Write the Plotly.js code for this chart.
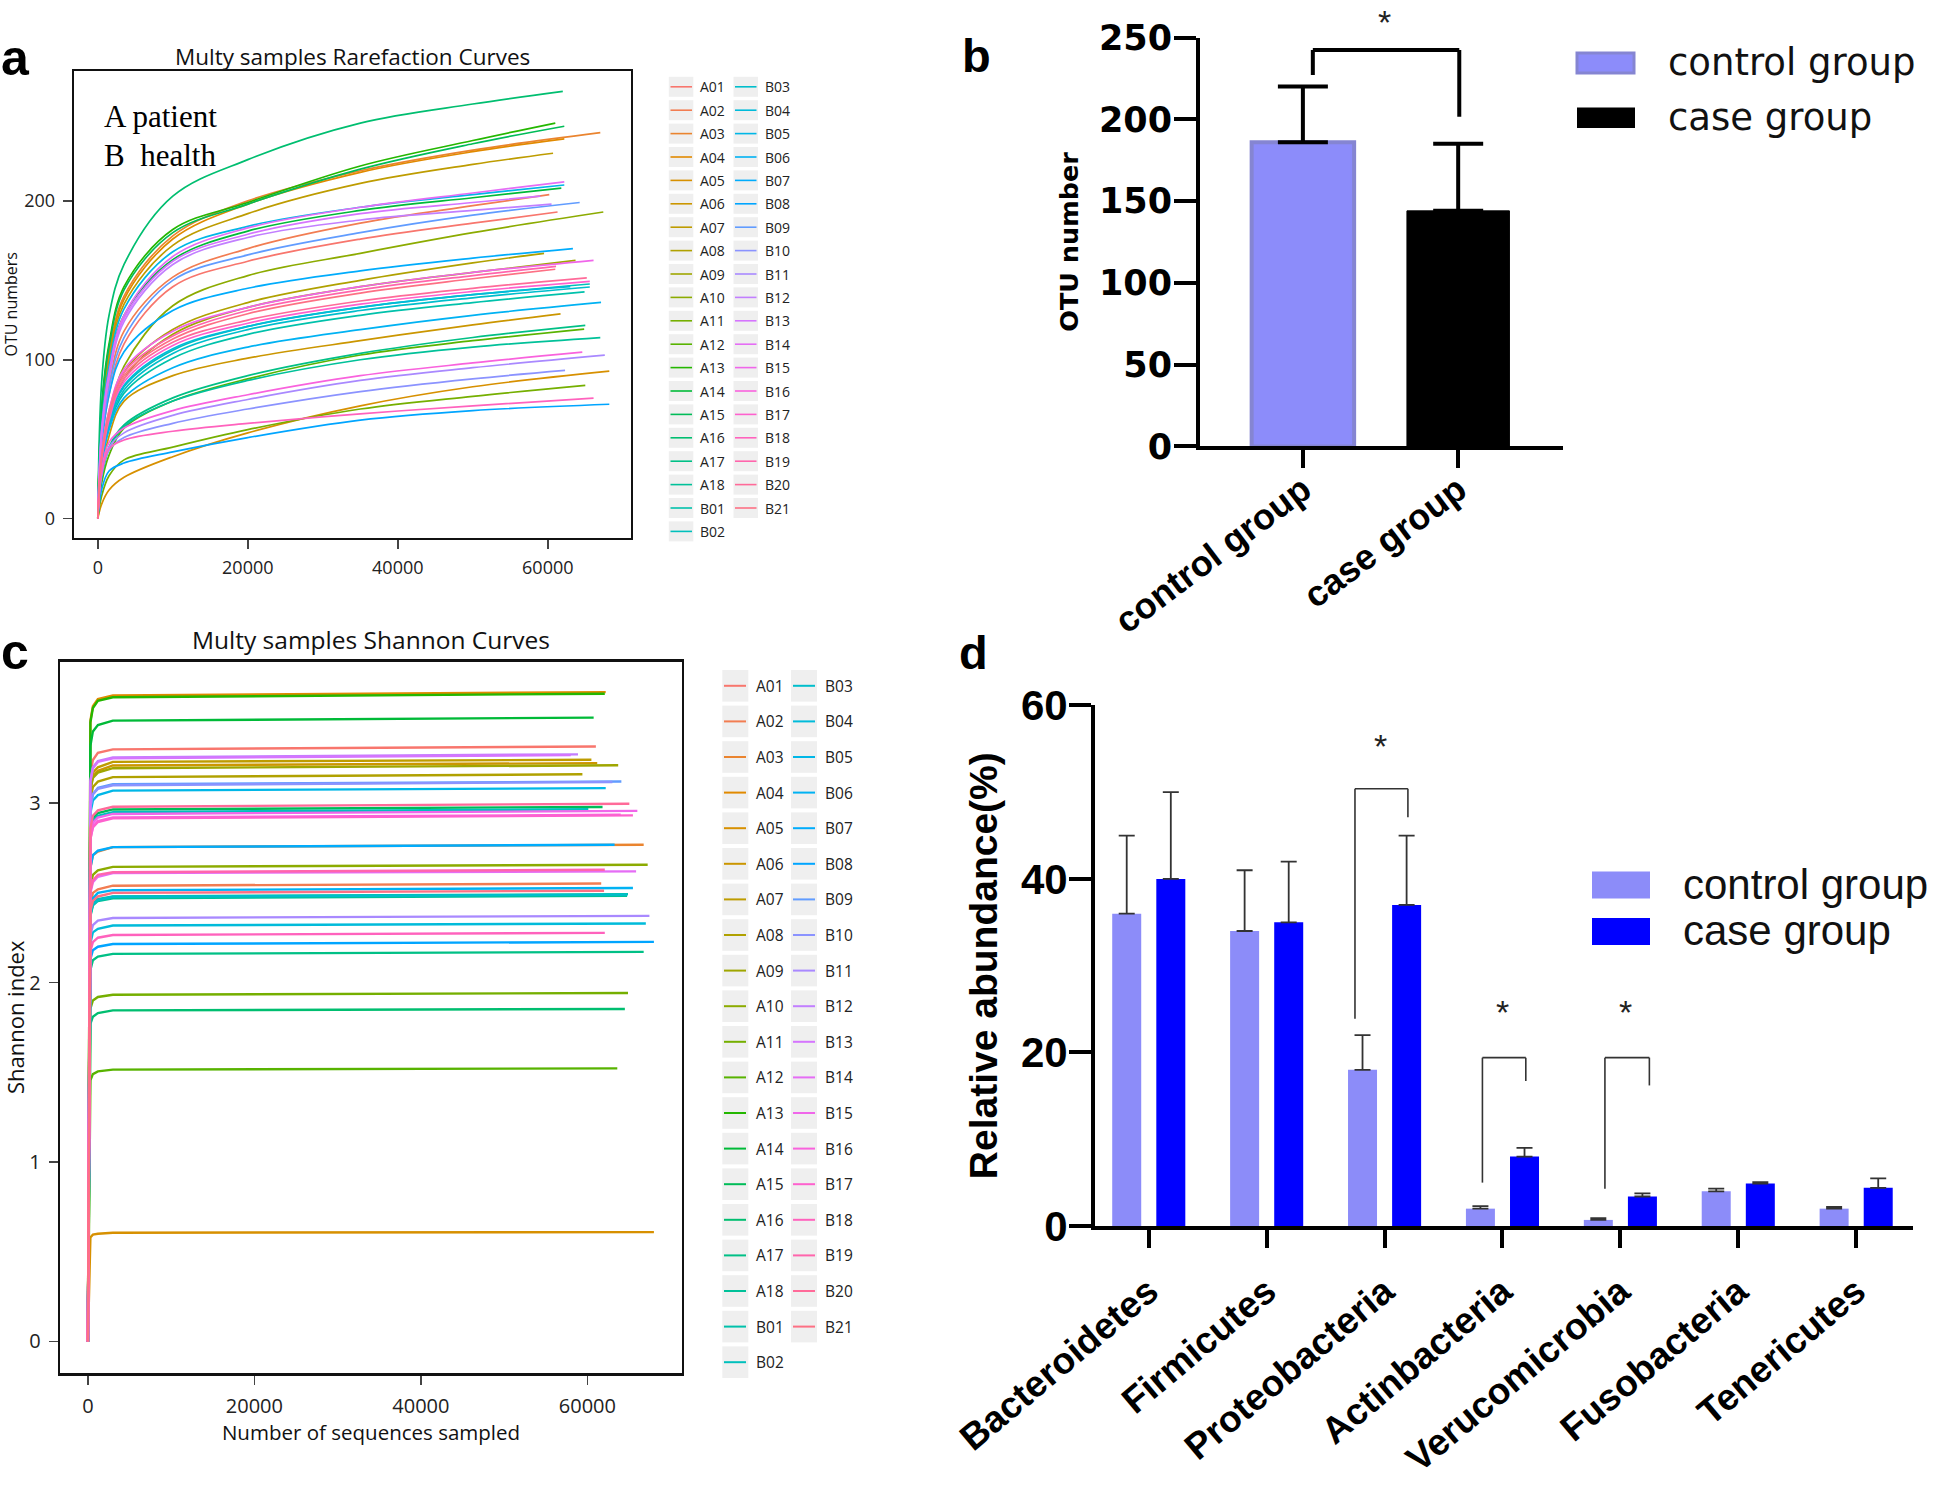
<!DOCTYPE html>
<html><head><meta charset="utf-8">
<script src="https://cdn.plot.ly/plotly-3.0.1.min.js"></script>
<style>html,body{margin:0;padding:0;background:#fff;}#chart{width:1946px;height:1489px;}</style>
</head><body><div id="chart"></div>
<script>
// ---------------- DATA ----------------
const samples = ['A01','A02','A03','A04','A05','A06','A07','A08','A09','A10','A11','A12','A13','A14','A15','A16','A17','A18',
  'B01','B02','B03','B04','B05','B06','B07','B08','B09','B10','B11','B12','B13','B14','B15','B16','B17','B18','B19','B20','B21'];

// Panel a: rarefaction (OTU numbers) read at these sequence counts, then at each sample's depth
const rarefSteps = [0, 500, 1500, 3500, 10000, 20000, 35000, 50000];
const rarefDepthA = [61300,60200,67000,62200,68200,61700,60700,59500,63700,67400,65000,64850,61000,61800,62200,62000,65000,67000];
const rarefDepthB = [64900,65600,65600,63000,62200,67100,63350,68200,64250,62300,67600,60500,59000,62200,66100,64600,65600,66100,61100,65200,61000];
const rarefA = [
  [0,46,78,110,146,162,176,186,193],
  [0,50,84,118,152,170,186,197,204],
  [0,65,104,140,178,200,219,232,243],
  [0,64,102,138,176,198,218,231,239],
  [0,9,18,26,39,54,71,83,92.8],
  [0,28,52,74,90,101,112,122,128.9],
  [0,62,100,135,172,192,211,223,230],
  [0,36,64,92,119,136,150,161,167],
  [0,34,60,88,116,133,146,155,162.6],
  [0,38,66,96,134,153,167,180,193],
  [0,14,27,37,45,56,69,77,83.9],
  [0,22,40,57,74,88,103,112,119.3],
  [0,70,110,146,182,199,222,238,249],
  [0,56,93,128,163,181,194,202,208],
  [0,68,108,144,180,198,220,236,247],
  [0,85,128,160,203,226,249,261,269],
  [0,26,45,59,76,90,104,114,121.7],
  [0,25,44,58,74,87,100,108,114]
];
const rarefB = [
  [0,33,57,79,101,116,128,136,142.7],
  [0,35,60,83,106,121,133,141,147.7],
  [0,34,58,81,104,119,131,139,145.8],
  [0,36,61,84,107,121,133,141,146],
  [0,58,96,132,168,184,196,204,210],
  [0,34,56,76,95,108,119,128,136.1],
  [0,45,78,105,131,145,156,164,170],
  [0,18,30,35,42,51,62,68,72],
  [0,48,82,114,150,166,180,191,199],
  [0,27,43,51,60,69,80,88,93.3],
  [0,28,45,54,65,75,87,95,102.9],
  [0,52,88,124,160,177,188,194,198],
  [0,54,90,126,162,179,192,199,203],
  [0,55,92,128,165,183,196,205,212],
  [0,40,68,94,118,133,146,155,162.6],
  [0,30,48,57,68,78,90,98,104.8],
  [0,36,62,86,109,123,135,143,149.4],
  [0,28,44,49.5,55,60,66,71,75.9],
  [0,40,68,92,115,131,144,153,158.8],
  [0,38,64,88,111,125,137,145,151.6],
  [0,38,66,90,113,129,142,151,157]
];

// Panel c: Shannon index read at these sequence counts, then at each sample's depth
const shannonSteps = [0, 300, 600, 1200, 3000];
const shannonDepthA = [61020,61660,66760,62200,67990,61180,60480,59400,63700,67240,64880,63590,62090,60750,61820,64500,66760,64770];
const shannonDepthB = [64880,60110,64800,67020,62200,65470,63270,67990,64080,63000,67450,58870,58000,65850,66000,64000,65470,62090,62090,65040,62000];
const shannonA = [
  [0,3.17,3.24,3.28,3.30,3.316],
  [0,2.44,2.50,2.52,2.54,2.552],
  [0,2.64,2.71,2.73,2.755,2.768],
  [0,3.46,3.54,3.58,3.60,3.619],
  [0,0.58,0.595,0.60,0.606,0.609],
  [0,3.08,3.15,3.18,3.21,3.223],
  [0,3.10,3.17,3.20,3.23,3.242],
  [0,3.02,3.09,3.12,3.145,3.161],
  [0,3.07,3.14,3.17,3.195,3.211],
  [0,2.54,2.60,2.625,2.645,2.657],
  [0,1.855,1.90,1.92,1.932,1.942],
  [0,1.455,1.49,1.505,1.515,1.522],
  [0,3.45,3.53,3.57,3.59,3.610],
  [0,3.32,3.40,3.435,3.46,3.477],
  [0,2.85,2.915,2.945,2.965,2.979],
  [0,1.77,1.81,1.83,1.845,1.853],
  [0,2.07,2.125,2.145,2.16,2.171],
  [0,2.37,2.43,2.455,2.47,2.484]
];
const shannonB = [
  [0,2.38,2.44,2.465,2.48,2.493],
  [0,2.83,2.90,2.93,2.95,2.966],
  [0,2.38,2.435,2.46,2.478,2.490],
  [0,2.22,2.28,2.30,2.318,2.329],
  [0,2.945,3.015,3.045,3.07,3.084],
  [0,2.41,2.47,2.50,2.515,2.527],
  [0,2.64,2.71,2.735,2.755,2.768],
  [0,2.13,2.18,2.20,2.215,2.227],
  [0,2.98,3.05,3.085,3.105,3.121],
  [0,2.98,3.05,3.08,3.10,3.118],
  [0,2.265,2.32,2.345,2.36,2.372],
  [0,3.125,3.20,3.235,3.255,3.272],
  [0,3.12,3.195,3.23,3.25,3.268],
  [0,2.50,2.56,2.59,2.61,2.620],
  [0,2.825,2.89,2.92,2.94,2.957],
  [0,2.80,2.87,2.90,2.92,2.935],
  [0,2.80,2.865,2.895,2.915,2.932],
  [0,2.175,2.225,2.25,2.265,2.277],
  [0,2.51,2.57,2.60,2.615,2.629],
  [0,2.86,2.93,2.96,2.98,2.997],
  [0,2.40,2.455,2.48,2.50,2.512]
];

// Panel b: OTU number
const groups = ['control group', 'case group'];
const otuMean = [186, 144];
const otuErr = [34, 41];

// Panel d: relative abundance (%)
const phyla = ['Bacteroidetes','Firmicutes','Proteobacteria','Actinbacteria','Verucomicrobia','Fusobacteria','Tenericutes'];
const controlAbund = [36, 34, 18, 2, 0.7, 4, 2];
const controlSD = [9, 7, 4, 0.3, 0.2, 0.3, 0.2];
const caseAbund = [40, 35, 37, 8, 3.4, 4.9, 4.4];
const caseSD = [10, 7, 8, 1, 0.35, 0.15, 1.1];

// ---------------- STYLE HELPERS ----------------
const W = 1946, H = 1489;
const px = x => x / W, py = y => 1 - y / H;

function hcl(h, c, l) {
  const hr = h * Math.PI / 180;
  const U = c * Math.cos(hr), V = c * Math.sin(hr);
  const Y = Math.pow((l + 16) / 116, 3);
  const un = 0.19783982, vn = 0.46833630;
  const u = U / (13 * l) + un, v = V / (13 * l) + vn;
  const X = 9 * Y * u / (4 * v);
  const Z = -X / 3 - 5 * Y + 3 * Y / v;
  const lin = [3.240479*X - 1.537150*Y - 0.498535*Z, -0.969256*X + 1.875992*Y + 0.041556*Z, 0.055648*X - 0.204043*Y + 1.057311*Z];
  return '#' + lin.map(q => {
    q = q <= 0.0031308 ? 12.92 * q : 1.055 * Math.pow(q, 1 / 2.4) - 0.055;
    q = Math.max(0, Math.min(1, q));
    return Math.round(q * 255).toString(16).padStart(2, '0');
  }).join('');
}
const colors = samples.map((s, i) => hcl(15 + i * 360 / samples.length, 100, 65));

const rarefAll = rarefA.concat(rarefB);
const rarefDepth = rarefDepthA.concat(rarefDepthB);
const shannonAll = shannonA.concat(shannonB);
const shannonDepth = shannonDepthA.concat(shannonDepthB);

const traces = [];
samples.forEach((s, i) => {
  traces.push({
    type: 'scatter', mode: 'lines', name: s, xaxis: 'x', yaxis: 'y',
    x: rarefSteps.concat([rarefDepth[i]]), y: rarefAll[i],
    line: {color: colors[i], width: 1.7, shape: 'spline', smoothing: 1},
    showlegend: false, hoverinfo: 'skip'
  });
});
samples.forEach((s, i) => {
  traces.push({
    type: 'scatter', mode: 'lines', name: s, xaxis: 'x3', yaxis: 'y3',
    x: shannonSteps.concat([shannonDepth[i]]), y: shannonAll[i],
    line: {color: colors[i], width: 2.4},
    showlegend: false, hoverinfo: 'skip'
  });
});

// Panel b bars
traces.push({
  type: 'bar', xaxis: 'x2', yaxis: 'y2', x: [groups[0]], y: [otuMean[0]], width: 0.66, offset: -0.33,
  marker: {color: '#8C8CFA', line: {color: '#8585D2', width: 4}},
  error_y: {type: 'data', symmetric: false, array: [otuErr[0]], arrayminus: [0], color: '#000', thickness: 4, width: 25},
  showlegend: false, hoverinfo: 'skip'
});
traces.push({
  type: 'bar', xaxis: 'x2', yaxis: 'y2', x: [groups[1]], y: [otuMean[1]], width: 0.66, offset: -0.33,
  marker: {color: '#000000', line: {color: '#000', width: 1}},
  error_y: {type: 'data', symmetric: false, array: [otuErr[1]], arrayminus: [0], color: '#000', thickness: 4, width: 25},
  showlegend: false, hoverinfo: 'skip'
});
// Panel d bars
traces.push({
  type: 'bar', xaxis: 'x4', yaxis: 'y4', x: phyla, y: controlAbund, width: 0.246, offset: -0.31,
  marker: {color: '#8C8CF9', line: {width: 0}},
  error_y: {type: 'data', symmetric: false, array: controlSD, arrayminus: phyla.map(() => 0), color: '#333', thickness: 1.8, width: 8},
  showlegend: false, hoverinfo: 'skip'
});
traces.push({
  type: 'bar', xaxis: 'x4', yaxis: 'y4', x: phyla, y: caseAbund, width: 0.246, offset: 0.064,
  marker: {color: '#0000FF', line: {width: 0}},
  error_y: {type: 'data', symmetric: false, array: caseSD, arrayminus: phyla.map(() => 0), color: '#333', thickness: 1.8, width: 8},
  showlegend: false, hoverinfo: 'skip'
});

// ---------------- LAYOUT ----------------
const OS = 'Open Sans, Noto Sans, sans-serif';
const LS = 'Liberation Sans, Arial, sans-serif';
const DJ = 'DejaVu Sans, sans-serif';

const frameAxis = {
  showline: true, mirror: true, linecolor: '#111', linewidth: 2, showgrid: false, zeroline: false,
  ticks: 'outside', ticklen: 9, tickwidth: 1.5, tickcolor: '#444', ticklabelstandoff: 4
};
const boldAxis = {
  showline: true, linecolor: '#000', linewidth: 4, showgrid: false, zeroline: false,
  ticks: 'outside', tickwidth: 4, tickcolor: '#000', fixedrange: true
};

const shapes = [], annotations = [];

function sampleLegend(cfg) {
  samples.forEach((s, i) => {
    const col = i < 20 ? 0 : 1, row = col ? i - 20 : i;
    const yc = cfg.y0 + row * cfg.dy;
    shapes.push({type: 'rect', xref: 'paper', yref: 'paper', x0: px(cfg.boxX[col]), x1: px(cfg.boxX[col] + cfg.boxW),
      y0: py(yc - cfg.boxH / 2), y1: py(yc + cfg.boxH / 2), fillcolor: '#EFEFEF', line: {width: 0}, layer: 'below'});
    shapes.push({type: 'line', xref: 'paper', yref: 'paper', x0: px(cfg.lineX[col]), x1: px(cfg.lineX[col] + cfg.lineW),
      y0: py(yc), y1: py(yc), line: {color: colors[i], width: cfg.lw}});
    annotations.push({xref: 'paper', yref: 'paper', x: px(cfg.textX[col]), y: py(yc), xanchor: 'left', yanchor: 'middle',
      text: s, showarrow: false, font: {family: OS, size: cfg.fs, color: '#222'}});
  });
}
sampleLegend({y0: 86.8, dy: 23.4, boxX: [668.8, 733.5], boxW: 24.5, boxH: 20, lineX: [670.5, 735], lineW: 21.5, lw: 1.6, textX: [698, 762.5], fs: 14});
sampleLegend({y0: 685.8, dy: 35.6, boxX: [722.3, 791], boxW: 26, boxH: 31.6, lineX: [724, 793], lineW: 22, lw: 2, textX: [753.5, 822.5], fs: 15.5});

function txt(x, y, text, font, xa, ya, extra) {
  annotations.push(Object.assign({xref: 'paper', yref: 'paper', x: px(x), y: py(y), text: text, showarrow: false,
    xanchor: xa || 'center', yanchor: ya || 'middle', font: font}, extra || {}));
}
// panel letters
const letterFont = {family: LS, size: 50, color: '#000', weight: 700};
txt(-1, 88, 'a', letterFont, 'left', 'bottom');
txt(960, 84, 'b', Object.assign({}, letterFont, {size: 47}), 'left', 'bottom');
txt(-1, 682, 'c', letterFont, 'left', 'bottom');
txt(957, 681, 'd', Object.assign({}, letterFont, {size: 47}), 'left', 'bottom');
// panel titles
txt(352.7, 56.6, 'Multy samples Rarefaction Curves', {family: OS, size: 22.5, color: '#111'});
txt(370.5, 639.4, 'Multy samples Shannon Curves', {family: OS, size: 24.5, color: '#111'});
// A / B note
const serif = {family: 'Liberation Serif, Times New Roman, serif', size: 31, color: '#000'};
txt(102, 116, 'A patient', serif, 'left');
txt(102, 155, 'B\u00a0 health', serif, 'left');

// panel b legend
shapes.push({type: 'rect', xref: 'paper', yref: 'paper', x0: px(1577), x1: px(1634), y0: py(73), y1: py(53), fillcolor: '#8C8CFA', line: {color: '#8585D2', width: 3}});
shapes.push({type: 'rect', xref: 'paper', yref: 'paper', x0: px(1577), x1: px(1635), y0: py(128), y1: py(107.5), fillcolor: '#000', line: {width: 0}});
txt(1666, 62, groups[0], {family: DJ, size: 37, color: '#111'}, 'left');
txt(1666, 117, groups[1], {family: DJ, size: 37, color: '#111'}, 'left');
// panel d legend
shapes.push({type: 'rect', xref: 'paper', yref: 'paper', x0: px(1592), x1: px(1650), y0: py(898.6), y1: py(871.4), fillcolor: '#8C8CF9', line: {width: 0}});
shapes.push({type: 'rect', xref: 'paper', yref: 'paper', x0: px(1592), x1: px(1650), y0: py(945), y1: py(918), fillcolor: '#0000FF', line: {width: 0}});
txt(1681, 884, groups[0], {family: LS, size: 42, color: '#111'}, 'left');
txt(1681, 930, groups[1], {family: LS, size: 42, color: '#111'}, 'left');

// significance brackets
function bracket(xr, yr, xl, xrr, yl, ytop, yrb, lw, col) {
  [[xl, yl, xl, ytop], [xl, ytop, xrr, ytop], [xrr, ytop, xrr, yrb]].forEach(s => {
    shapes.push({type: 'line', xref: xr, yref: yr, x0: s[0], y0: s[1], x1: s[2], y1: s[3], line: {color: col, width: lw}});
  });
}
bracket('x2', 'y2', 0.064, 1.007, 227, 242.4, 201.5, 4, '#000');
bracket('x4', 'y4', 1.749, 2.198, 23.9, 50.4, 47.1, 1.6, '#333');
bracket('x4', 'y4', 2.830, 3.198, 5.0, 19.4, 16.7, 1.6, '#333');
bracket('x4', 'y4', 3.869, 4.246, 4.3, 19.4, 16.2, 1.6, '#333');
const starFont = {family: LS, size: 34, color: '#222'};
txt(1384, 1, '*', starFont, 'center', 'top');
txt(1380, 746, '*', starFont);
txt(1502, 1012, '*', starFont);
txt(1625.5, 1012, '*', starFont);

const layout = {
  width: W, height: H, margin: {l: 0, r: 0, t: 0, b: 0}, paper_bgcolor: '#fff', plot_bgcolor: '#fff',
  showlegend: false, font: {family: OS, color: '#222'},
  xaxis: Object.assign({}, frameAxis, {domain: [px(73.7), px(630.8)], range: [-3213, 71067], anchor: 'y',
    tickvals: [0, 20000, 40000, 60000], tickformat: 'd', tickfont: {family: OS, size: 18, color: '#222'}}),
  yaxis: Object.assign({}, frameAxis, {domain: [py(537.7), py(70.8)], range: [-12, 281.9], anchor: 'x',
    tickvals: [0, 100, 200], tickfont: {family: OS, size: 18, color: '#222'},
    title: {text: 'OTU numbers', font: {family: OS, size: 16, color: '#111'}, standoff: 6}}),
  xaxis3: Object.assign({}, frameAxis, {domain: [px(60.3), px(681.7)], range: [-3315, 71327], anchor: 'y3', linewidth: 2.5,
    tickvals: [0, 20000, 40000, 60000], tickformat: 'd', tickfont: {family: OS, size: 20, color: '#222'},
    title: {text: 'Number of sequences sampled', font: {family: OS, size: 20.5, color: '#111'}, standoff: 4}}),
  yaxis3: Object.assign({}, frameAxis, {domain: [py(1373), py(661.6)], range: [-0.176, 3.789], anchor: 'x3', linewidth: 2.5,
    tickvals: [0, 1, 2, 3], tickfont: {family: OS, size: 20, color: '#222'},
    title: {text: 'Shannon index', font: {family: OS, size: 22, color: '#111'}, standoff: 8}}),
  xaxis2: Object.assign({}, boldAxis, {domain: [px(1200), px(1563)], range: [-0.6626, 1.675], anchor: 'y2', type: 'category',
    ticklen: 18, tickangle: -37, tickfont: {family: LS, size: 36, color: '#000', weight: 700}, ticklabelstandoff: -14}),
  yaxis2: Object.assign({}, boldAxis, {domain: [py(446.4), py(37.5)], range: [0, 250], anchor: 'x2',
    ticklen: 22, tickvals: [0, 50, 100, 150, 200, 250], tickfont: {family: DJ, size: 35, color: '#000', weight: 700}, ticklabelstandoff: -5,
    title: {text: 'OTU number', font: {family: DJ, size: 25.5, color: '#000', weight: 700}, standoff: 14}}),
  xaxis4: Object.assign({}, boldAxis, {domain: [px(1095), px(1913)], range: [-0.456, 6.482], anchor: 'y4', type: 'category',
    ticklen: 18, tickangle: -40, tickfont: {family: LS, size: 37, color: '#000', weight: 700}, ticklabelstandoff: 7}),
  yaxis4: Object.assign({}, boldAxis, {domain: [py(1226), py(705.4)], range: [0, 60], anchor: 'x4',
    ticklen: 22, tickvals: [0, 20, 40, 60], tickfont: {family: LS, size: 42, color: '#000', weight: 700}, ticklabelstandoff: -7,
    title: {text: 'Relative abundance(%)', font: {family: LS, size: 39, color: '#000', weight: 700}, standoff: 12}}),
  shapes: shapes, annotations: annotations
};

Plotly.newPlot('chart', traces, layout, {staticPlot: true, displayModeBar: false});
</script>
</body></html>
